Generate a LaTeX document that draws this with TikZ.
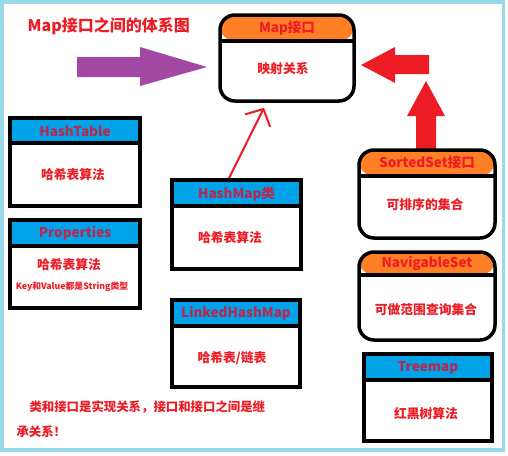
\documentclass[tikz,border=0pt]{standalone}
\usepackage{fontspec}
\setmainfont{Noto Sans CJK SC}
\usetikzlibrary{arrows.meta}
\definecolor{mred}{RGB}{237,28,36}
\definecolor{mpurple}{RGB}{163,73,164}
\definecolor{morange}{RGB}{255,127,39}
\definecolor{mblue}{RGB}{0,162,232}
\definecolor{mframe}{RGB}{153,217,234}
\definecolor{mhead}{RGB}{185,40,80}
\tikzset{umlbox/.style 2 args = {draw, line width=3.5pt, inner sep=0pt,
                                 path picture={\fill [#1] (path picture bounding box.north west)
                                                 rectangle ([yshift=-#2]path picture bounding box.north east);
                                               \draw [line width=3.5pt] ([yshift=-#2]path picture bounding box.north west)
                                                 -- ([yshift=-#2]path picture bounding box.north east);}},
         headtext/.style = {font=\bfseries\fontsize{13.5}{16}\selectfont, text=#1},
         bodytext/.style = {font=\bfseries\fontsize{12.8}{15}\selectfont, text=mred},
         thinarrow/.style = {mred, line width=2pt, -{Straight Barb[length=13pt, width=28pt]}}}

\begin{document}
\begin{tikzpicture}[x=1pt, y=-1pt]
    \useasboundingbox (0, 0) rectangle (508, 455);
    \draw [mframe, line width=3.5pt] (1.75, 1.75) rectangle (503.5, 450);

    \node [anchor=west, font=\bfseries\fontsize{16}{19}\selectfont, text=mred] (title) at (24, 26) {Map接口之间的体系图};

    \fill [mpurple] (77, 57) -- (140, 57) -- (140, 47) -- (207, 67) -- (140, 86) -- (140, 77) -- (77, 77) -- cycle;
    \fill [mred] (429, 55) -- (395, 55) -- (395, 47) -- (361, 65) -- (395, 83) -- (395, 74) -- (429, 74) -- cycle;
    \fill [mred] (416, 150) -- (416, 116) -- (407, 116) -- (426, 81) -- (445, 116) -- (436, 116) -- (436, 150) -- cycle;

    \node [umlbox={morange}{26pt}, rounded corners=15pt, minimum width=134pt, minimum height=86pt] (map) at (287, 58) {};
    \node [headtext=mred] (map-h) at ([yshift=-14.5pt]map.north) {Map接口};
    \node [bodytext] (map-b) at (283, 69) {映射关系};

    \node [umlbox={mblue}{25pt}, minimum width=130pt, minimum height=88pt] (hashtable) at (75, 162) {};
    \node [headtext=mhead] (hashtable-h) at ([yshift=-14.5pt]hashtable.north) {HashTable};
    \node [bodytext] (hashtable-b) at (73, 175) {哈希表算法};

    \node [umlbox={mblue}{26pt}, minimum width=130pt, minimum height=88pt] (properties) at (75, 264) {};
    \node [headtext=mhead] (properties-h) at ([yshift=-15.5pt]properties.north) {Properties};
    \node [bodytext] (properties-b) at (69, 265) {哈希表算法};
    \node [font=\bfseries\fontsize{8.8}{11}\selectfont, text=mred] (properties-c) at (72, 287) {Key和Value都是String类型};

    \node [umlbox={mblue}{26pt}, minimum width=129pt, minimum height=89pt] (hashmap) at (236.5, 224.5) {};
    \node [headtext=mhead] (hashmap-h) at ([yshift=-15.5pt]hashmap.north) {HashMap类};
    \node [bodytext] (hashmap-b) at (230, 238) {哈希表算法};

    \node [umlbox={mblue}{26pt}, minimum width=128pt, minimum height=87pt] (linked) at (236, 343.5) {};
    \node [headtext=mhead] (linked-h) at ([yshift=-15.5pt]linked.north) {LinkedHashMap};
    \node [bodytext] (linked-b) at (232, 358) {哈希表/链表};

    \node [umlbox={morange}{26pt}, rounded corners=15pt, minimum width=136pt, minimum height=88pt] (sortedset) at (427, 194) {};
    \node [headtext=mred] (sortedset-h) at ([yshift=-14.5pt]sortedset.north) {SortedSet接口};
    \node [bodytext] (sortedset-b) at (425, 205) {可排序的集合};

    \node [umlbox={morange}{23pt}, rounded corners=15pt, minimum width=136pt, minimum height=88pt] (navigable) at (427, 296) {};
    \node [headtext=mred] (navigable-h) at ([yshift=-13.5pt]navigable.north) {NavigableSet};
    \node [bodytext] (navigable-b) at (426, 310) {可做范围查询集合};

    \node [umlbox={mblue}{26pt}, minimum width=128pt, minimum height=87pt] (treemap) at (428, 397.5) {};
    \node [headtext=mhead] (treemap-h) at ([yshift=-15.5pt]treemap.north) {Treemap};
    \node [bodytext] (treemap-b) at (426, 414) {红黑树算法};

    \draw [thinarrow] ([xshift=-7.5pt]hashmap.north) -- ([xshift=-23pt, yshift=-5pt]map.south);

    \node [bodytext, font=\bfseries\fontsize{12.4}{15}\selectfont, anchor=west] (note1) at (26, 407) {类和接口是实现关系，接口和接口之间是继};
    \node [bodytext, font=\bfseries\fontsize{12.4}{15}\selectfont, anchor=west] (note2) at (13, 432) {承关系！};
\end{tikzpicture}
\end{document}
